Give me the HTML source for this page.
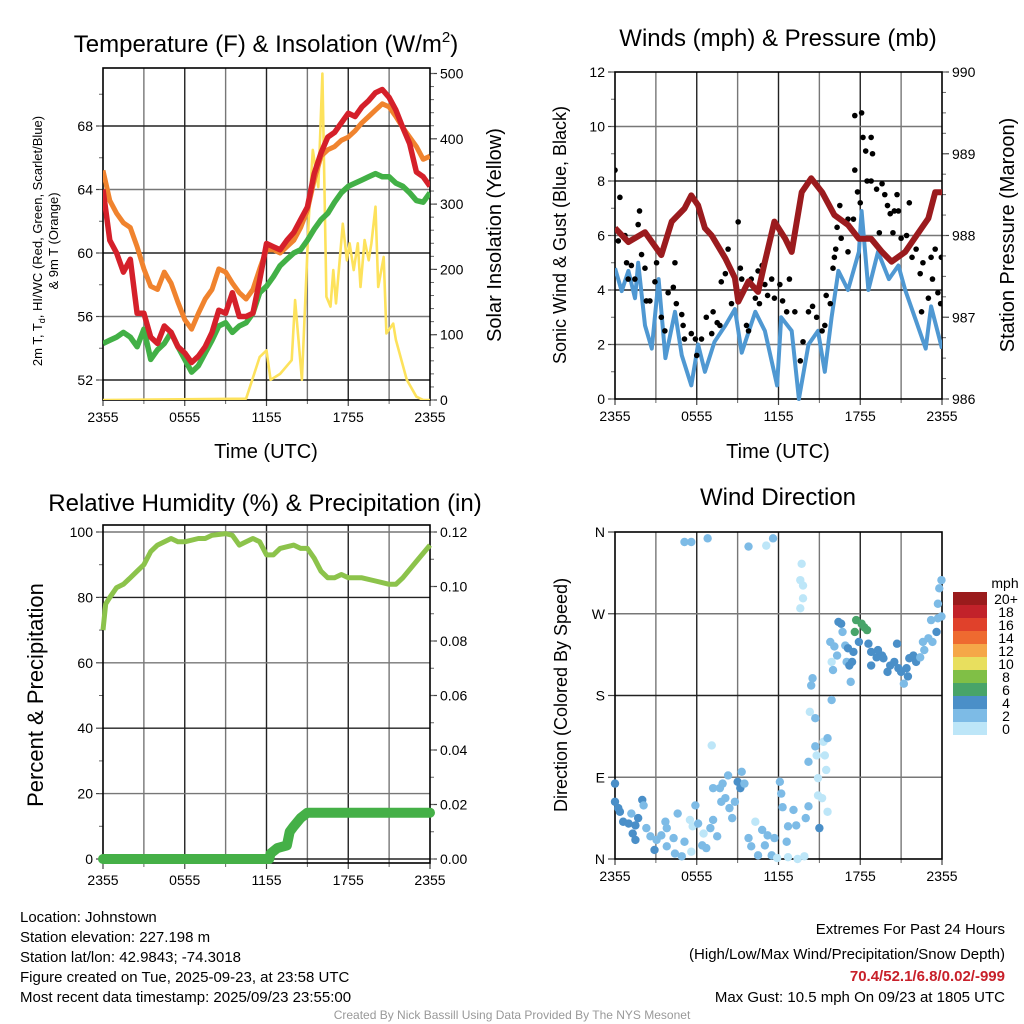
<!DOCTYPE html>
<html><head><meta charset="utf-8"><style>
html,body{margin:0;padding:0;background:#fff;}
svg{display:block;font-family:"Liberation Sans",sans-serif;}
</style></head><body>
<svg id="chart" width="1024" height="1024" viewBox="0 0 1024 1024" xmlns="http://www.w3.org/2000/svg">
<rect width="1024" height="1024" fill="#fff"/>
<g id="layer"></g>
<g font-size="24" fill="#000" text-anchor="middle">
<text x="266" y="52">Temperature (F) &amp; Insolation (W/m<tspan font-size="15" dy="-10">2</tspan><tspan dy="10">)</tspan></text>
<text x="778" y="46">Winds (mph) &amp; Pressure (mb)</text>
<text x="265" y="511">Relative Humidity (%) &amp; Precipitation (in)</text>
<text x="778" y="505">Wind Direction</text>
</g>
<g font-size="20" text-anchor="middle">
<text x="266" y="458">Time (UTC)</text>
<text x="778" y="458">Time (UTC)</text>
<text transform="translate(501,235) rotate(-90)">Solar Insolation (Yellow)</text>
<text font-size="18" transform="translate(566,235) rotate(-90)">Sonic Wind &amp; Gust (Blue, Black)</text>
<text transform="translate(1014,235) rotate(-90)">Station Pressure (Maroon)</text>
<text font-size="22" transform="translate(43,695) rotate(-90)">Percent &amp; Precipitation</text>
<text font-size="18" transform="translate(567,695) rotate(-90)">Direction (Colored By Speed)</text>
</g>
<g font-size="13" text-anchor="middle">
<text transform="translate(42,241) rotate(-90)">2m T, T<tspan font-size="9" dy="3">d</tspan><tspan dy="-3">, HI/WC (Red, Green, Scarlet/Blue)</tspan></text>
<text transform="translate(58,241) rotate(-90)">&amp; 9m T (Orange)</text>
</g>
<g font-size="15">
<text x="20" y="922">Location: Johnstown</text>
<text x="20" y="942">Station elevation: 227.198 m</text>
<text x="20" y="962">Station lat/lon: 42.9843; -74.3018</text>
<text x="20" y="982">Figure created on Tue, 2025-09-23, at 23:58 UTC</text>
<text x="20" y="1002">Most recent data timestamp: 2025/09/23 23:55:00</text>
<g text-anchor="end">
<text x="1005" y="934">Extremes For Past 24 Hours</text>
<text x="1005" y="959">(High/Low/Max Wind/Precipitation/Snow Depth)</text>
<text x="1005" y="981" fill="#c8202a" font-weight="bold">70.4/52.1/6.8/0.02/-999</text>
<text x="1005" y="1002">Max Gust: 10.5 mph On 09/23 at 1805 UTC</text>
</g>
<text x="512" y="1019" font-size="12" fill="#999" text-anchor="middle">Created By Nick Bassill Using Data Provided By The NYS Mesonet</text>
</g>
</svg>
<script>
// ---- data ----
const hrs = [0,0.5,1,1.5,2,2.5,3,3.5,4,4.5,5,5.5,6,6.5,7,7.5,8,8.5,9,9.5,10,10.5,11,11.5,12,12.5,13,13.5,14,14.5,15,15.5,16,16.5,17,17.5,18,18.5,19,19.5,20,20.5,21,21.5,22,22.5,23,23.5,24];
const tempRed = [64,60.8,60,58.8,59.6,56.2,56.2,54.7,54.3,55.4,55,54.1,53.7,53.1,53.5,54.1,55,56.4,56.2,57.5,56,56,56.2,58.3,60.6,60.4,60.2,60.8,61.3,62.1,62.9,65,66.3,67.3,67.6,68.2,68.8,68.6,69.2,69.6,70.1,70.3,69.8,69,67.9,66.9,65.1,64.8,64.2];
const tempOrange = [65.2,63.3,62.5,61.9,61.6,60.4,59,57.9,57.7,58.8,58.1,56.9,55.8,55.2,56.2,57.1,57.7,59,58.8,58.1,57.5,57.1,57.7,59,60.2,60.2,60,60.4,60.8,61.6,62.7,64.6,66.1,66.5,66.7,67.1,67.3,67.7,68.2,68.6,69,69.4,69.2,68.6,67.9,67.3,66.7,65.9,66.1];
const tempGreen = [54.3,54.5,54.7,55,54.7,54.1,55.2,53.3,53.9,54.3,55,54.1,53.3,52.5,52.9,53.7,54.5,55.4,55.6,55,55.4,55.6,56.2,57.5,57.9,58.5,59.2,59.6,60,60.2,60.8,61.5,62.1,62.5,63.2,63.8,64.2,64.4,64.6,64.8,65,64.8,64.8,64.4,64.2,63.8,63.3,63.2,63.8];
const solarHrs = [0,10.5,11.5,12,12.3,13,13.85,14.1,14.6,15.1,15.4,15.8,16.1,16.4,16.7,16.9,17.1,17.6,17.9,18.1,18.4,18.7,18.9,19.2,19.5,19.7,20,20.2,20.6,20.8,21.3,21.5,22.3,23,23.5,24];
const solar = [0,2,66,76,31,40,61,153,31,275,383,326,500,158,143,199,148,270,214,240,199,240,173,245,214,240,296,173,219,102,117,92,31,5,0,0];
const windHrs = [0,0.49,0.98,1.47,1.7,2.2,2.7,3.2,3.7,4.4,4.9,5.6,6.1,6.6,7.3,8.1,8.8,9.3,10.3,11,11.9,12.2,12.97,13.5,14.2,14.9,15.4,15.9,16.4,17.1,17.9,18.1,18.6,19.3,20.1,20.8,21.3,22,22.8,23.2,24];
const wind = [4.8,3.96,4.7,3.7,5.0,2.7,1.85,4.4,1.5,3.2,1.6,0.5,2.0,1.0,2.1,2.7,3.3,1.7,3.2,2.5,0.5,3.0,2.5,0.0,2.0,2.5,1.0,3.0,4.7,4.0,5.4,6.9,4.0,5.4,4.4,4.9,4.0,3.0,1.85,3.4,1.85];
const presHrs = [0,0.98,2.2,3.4,4.16,5.1,5.6,6.1,6.6,7.1,8.1,8.8,9.05,9.8,10.5,11,11.7,12.5,12.97,13.7,14.4,15.2,16.1,17.1,17.9,18.8,19.6,20.3,21.3,22.3,23,23.5,24];
const pressure = [988.09,987.92,988.04,987.76,988.17,988.33,988.49,988.37,988.09,988.0,987.72,987.48,987.19,987.44,987.31,987.68,988.17,987.96,987.8,988.53,988.70,988.53,988.25,988.13,987.96,987.96,987.80,987.68,987.80,988.04,988.21,988.53,988.53];
const gustHrs = [0,0.36,0.24,0.73,0.85,0.97,1.2,1.46,1.7,1.8,1.95,2.2,2.3,2.56,2.93,3.05,3.4,3.66,3.9,4.28,4.4,4.5,4.9,5.0,5.1,5.6,5.9,6.0,6.35,6.7,7.1,7.2,7.5,7.7,7.8,8.1,8.3,8.55,9.04,9.2,9.3,9.65,9.8,10,10.3,10.5,10.6,10.8,11,11.2,11.5,11.7,12.1,12.3,12.6,12.8,13.2,13.6,13.8,14.2,14.5,14.8,15.2,15.4,15.5,15.8,16,16.1,16.2,16.3,16.5,16.6,16.9,17.1,17.5,17.6,17.8,18,17.6,18.1,18.2,18.4,18.8,18.9,18.5,18.8,19.2,19.6,19.8,20,20.2,20.5,20.7,20.8,21,21.4,21.6,21.8,22.1,22.4,22.6,23.2,23.5,23.3,23.7,23.9,23,22.5,23.95,19.4,20.4,17.1];
const gust = [8.4,7.4,5.8,6.0,5.0,4.4,4.9,4.4,6.4,6.9,5.3,4.8,3.6,3.6,4.3,5.0,3.0,2.5,3.9,4.1,5.0,3.5,3.1,2.7,2.2,2.4,2.2,1.6,2.2,3.0,2.4,3.2,2.8,2.7,4.3,4.6,5.5,3.5,6.5,4.8,4.4,2.7,2.5,4.4,3.7,4.7,3.5,4.9,4.2,3.8,4.4,3.7,4.2,3.6,3.2,4.4,3.2,1.4,2.1,3.2,3.4,3.0,2.5,2.7,3.8,3.5,4.8,5.2,5.5,6.3,7.1,5.9,6.5,5.4,6.6,8.4,7.6,7.2,10.4,10.5,9.6,9.1,9.6,9.0,8.0,8.0,7.7,7.9,7.5,7.1,6.8,6.9,7.5,6.9,5.9,6.0,7.2,5.2,5.5,4.6,5.0,5.2,5.5,4.4,3.9,3.5,3.7,3.2,5.2,6.1,6.1,6.6];
const rhHrs = [0,0.2,0.5,1,1.5,2,2.5,3,3.5,4,5,5.5,6,7,7.5,8,9,9.5,10,10.5,11,11.5,12,12.5,13,14,14.5,15,15.5,16,16.5,17,17.5,18,19,20,21,21.5,22,23,24];
const rh = [70,78,80,83,84,86,88,90,94,96,98,97,97,98,98,99,99.5,99,96,97,98,97,93,93,95,96,95,95,92,88,86,86,87,86,86,85,84,84,86,91,96];
const precipHrs = [0,12.2,12.3,12.8,13.5,13.7,14,14.5,15,24];
const precip = [0,0,0.002,0.004,0.005,0.01,0.012,0.015,0.017,0.017];
const dirHrs = [0,0,0.24,0.36,0.6,1.0,1.2,1.5,1.7,2.0,2.1,1.3,1.5,2.3,2.6,2.9,3.05,3.4,3.7,3.8,3.8,4.4,4.3,4.6,4.9,5.1,5.5,5.6,5.7,5.9,6.1,6.4,6.5,6.7,7.0,7.2,7.2,7.5,7.7,7.8,7.9,8.1,8.3,8.4,8.6,8.8,9.0,9.2,9.3,9.5,7.1,5.1,5.6,6.8,9.8,11.1,11.6,9.8,10.0,10.3,10.5,10.8,11.0,11.2,11.5,11.7,11.9,12.1,12.2,12.3,12.6,12.7,12.7,13.1,13.3,13.4,13.9,14.0,14.2,13.7,13.6,13.8,13.8,13.6,14.2,14.4,14.5,14.3,14.7,14.7,14.8,14.9,14.9,15.0,15.2,15.3,15.4,15.5,15.6,15.6,15.9,15.8,15.9,16.0,16.1,16.3,16.4,16.6,16.7,16.9,17.0,17.1,17.2,17.4,17.5,17.3,17.7,17.6,18.1,18.3,18.5,17.9,18.6,18.8,18.8,19.2,19.3,19.6,19.7,20.0,20.2,20.5,20.7,20.8,21.0,21.2,21.4,21.5,21.6,21.9,22.1,22.4,22.6,22.7,23.0,23.2,23.3,23.6,23.7,23.7,23.8,23.96,23.96];
const dirDeg = [83,63,56,52,41,39,50,37,45,65,59,28,21,34,25,10,21,26,41,14,34,6,23,50,3,19,43,8,36,59,39,15,28,12,34,78,43,25,78,63,83,67,92,56,45,63,85,78,96,83,125,349,349,353,344,345,353,23,14,41,4,32,15,26,4,23,1,85,72,57,19,36,2,54,37,0,3,45,58,325,307,301,287,276,107,191,199,162,155,124,114,89,70,34,67,129,114,98,52,133,175,239,217,208,234,224,261,259,250,235,217,232,213,217,228,195,263,250,259,255,252,239,237,228,213,222,230,224,221,206,213,217,237,210,206,193,210,201,221,224,217,222,239,230,243,263,239,250,265,281,298,307,267];
const dirSpd = [4,4,4,4,4,4,2,4,4,4,2,4,4,2,2,4,2,2,2,2,2,2,2,2,2,2,0,0,0,2,2,2,0,2,2,2,2,2,2,2,2,2,2,2,2,2,4,4,2,2,0,2,2,2,2,0,2,2,2,0,2,2,2,2,2,2,0,2,2,2,2,2,0,2,2,0,0,2,2,0,0,0,0,0,2,2,2,0,2,2,0,0,0,4,0,0,0,0,0,2,2,2,0,2,2,2,4,4,2,2,2,4,4,4,4,2,6,6,6,6,6,4,4,4,4,4,4,4,4,4,4,4,4,4,4,2,4,4,4,4,4,2,2,2,2,2,2,4,2,2,2,2,2];
const speedBins = ["0","2","4","6","8","10","12","14","16","18","20+"];
const speedColors = ["#bde6f8","#7dbbe6","#4a8fc8","#48a469","#80bf46","#e8df5e","#f5a748","#ee6a30","#e0412b","#c2222a","#9a1b1c"];
const tempTicks = [52,56,60,64,68];
const solarTicks = [0,100,200,300,400,500];
const windTicks = [0,2,4,6,8,10,12];
const presTicks = [986,987,988,989,990];
const rhTicks = [0,20,40,60,80,100];
const prTicks = [0,0.02,0.04,0.06,0.08,0.10,0.12];
const dirTicks = [0,90,180,270,360];
const dirLabels = ["N","E","S","W","N"];
const timeLabels = ["2355","0555","1155","1755","2355"];

// ---- helpers ----
const NS="http://www.w3.org/2000/svg";
const layer=document.getElementById('layer');
function mk(tag,attrs,parent){const e=document.createElementNS(NS,tag);for(const k in attrs)e.setAttribute(k,attrs[k]);(parent||layer).appendChild(e);return e;}
function lin(d0,d1,r0,r1){return v=>r0+(v-d0)*(r1-r0)/(d1-d0);}
function pathD(xs,ys,fx,fy){return xs.map((h,i)=>(i?'L':'M')+fx(h).toFixed(1)+' '+fy(ys[i]).toFixed(1)).join('');}

function frame(name,x0,x1,y0,y1,fy,leftTicks,leftFmt,minorL,rightScale,rightTicks,rightFmt,minorR){
  const g=mk('g',{});
  
  
  const fx=lin(0,24,x0,x1);
  for(let h=3;h<24;h+=3){const l=mk('line',{x1:fx(h),x2:fx(h),y1:y0,y2:y1,stroke:(h%6?'#777':'#222'),'stroke-width':1.4},g);}
  leftTicks.forEach((t,i)=>{const y=fy(t);
    if(y>y0+1&&y<y1-1){const l=mk('line',{x1:x0,x2:x1,y1:y,y2:y,stroke:(i%2?'#777':'#222'),'stroke-width':1.4},g);}
    mk('line',{x1:x0-7,x2:x0,y1:y,y2:y,stroke:'#444','stroke-width':1.2},g);
    const tx=mk('text',{x:x0-10,y:y+5,'font-size':14,'text-anchor':'end'},g);tx.textContent=leftFmt(t);
    
  });
  minorL.forEach(t=>{const y=fy(t);if(y>=y0&&y<=y1)mk('line',{x1:x0-4,x2:x0,y1:y,y2:y,stroke:'#666','stroke-width':1},g);});
  if(rightScale){
    rightTicks.forEach(t=>{const y=rightScale(t);mk('line',{x1:x1,x2:x1+7,y1:y,y2:y,stroke:'#444','stroke-width':1.2},g);
      const tx=mk('text',{x:x1+10,y:y+5,'font-size':14},g);tx.textContent=rightFmt(t);
      });
    minorR.forEach(t=>{const y=rightScale(t);if(y>=y0&&y<=y1)mk('line',{x1:x1,x2:x1+4,y1:y,y2:y,stroke:'#666','stroke-width':1},g);});
  }
  timeLabels.forEach((s,i)=>{const x=fx(i*6);mk('line',{x1:x,x2:x,y1:y1,y2:y1+6,stroke:'#444','stroke-width':1.2},g);
    const tx=mk('text',{x:x,y:y1+22,'font-size':14,'text-anchor':'middle'},g);tx.textContent=s;
    });
  for(let h=3;h<24;h+=6)mk('line',{x1:fx(h),x2:fx(h),y1:y1,y2:y1+4,stroke:'#666'},g);
  const b=mk('rect',{x:x0,y:y0,width:x1-x0,height:y1-y0,fill:'none',stroke:'#000','stroke-width':1.6},g);
  
  return fx;
}
function range(a,b,s){const r=[];for(let v=a;v<=b+1e-9;v+=s)r.push(+v.toFixed(4));return r;}

// ---- Panel 1 ----
{
 const x0=103,x1=430,y0=68,y1=400;
 const fy=lin(52,68,380,126);
 const fs=lin(0,500,400,73.5);
 const fx=frame('temperature',x0,x1,y0,y1,fy,tempTicks,t=>t,range(50,72,2),fs,solarTicks,t=>t,range(0,500,20));
 const cl=mk('clipPath',{id:'c1'});mk('rect',{x:x0,y:y0,width:x1-x0,height:y1-y0},cl);
 const g=mk('g',{'clip-path':'url(#c1)'});
 const s=mk('path',{d:pathD(solarHrs,solar,fx,fs),fill:'none',stroke:'#fde25c','stroke-width':2.6,'stroke-linejoin':'round'},g);
 
 const o=mk('path',{d:pathD(hrs,tempOrange,fx,fy),fill:'none',stroke:'#f0832e','stroke-width':5,'stroke-linejoin':'round'},g);
 
 const gr=mk('path',{d:pathD(hrs,tempGreen,fx,fy),fill:'none',stroke:'#42b046','stroke-width':5.5,'stroke-linejoin':'round'},g);
 
 const r=mk('path',{d:pathD(hrs,tempRed,fx,fy),fill:'none',stroke:'#d5202a','stroke-width':5.5,'stroke-linejoin':'round'},g);
 
}
// ---- Panel 2 ----
{
 const x0=615,x1=942,y0=72,y1=399;
 const fy=lin(0,12,399,72);
 const fp=lin(986,990,399,72);
 const fx=frame('winds',x0,x1,y0,y1,fy,windTicks,t=>t,range(0,12,1),fp,presTicks,t=>t,range(986,990,0.25));
 const cl=mk('clipPath',{id:'c2'});mk('rect',{x:x0,y:y0-3,width:x1-x0,height:y1-y0+6},cl);
 const g=mk('g',{'clip-path':'url(#c2)'});
 const w=mk('path',{d:pathD(windHrs,wind,fx,fy),fill:'none',stroke:'#4f98d2','stroke-width':4,'stroke-linejoin':'round'},g);
 
 gustHrs.forEach((h,i)=>{const c=mk('circle',{cx:fx(h),cy:fy(gust[i]),r:2.8,fill:'#000'},g);
   
   });
 const p=mk('path',{d:pathD(presHrs,pressure,fx,fp),fill:'none',stroke:'#9b1b1e','stroke-width':6,'stroke-linejoin':'round'},g);
 
}
// ---- Panel 3 ----
{
 const x0=103,x1=430,y0=525,y1=863;
 const fy=lin(0,100,859,532);
 const fp=lin(0,0.12,859,532);
 const fx=frame('humidity',x0,x1,y0,y1,fy,rhTicks,t=>t,range(0,100,10),fp,prTicks,t=>t.toFixed(2),range(0,0.12,0.01));
 const g=mk('g',{});
 const r=mk('path',{d:pathD(rhHrs,rh,fx,fy),fill:'none',stroke:'#8cc34b','stroke-width':5,'stroke-linejoin':'round'},g);
 
 const p=mk('path',{d:pathD(precipHrs,precip,fx,fp),fill:'none',stroke:'#45b047','stroke-width':10,'stroke-linejoin':'round','stroke-linecap':'round'},g);
 
}
// ---- Panel 4 ----
{
 const x0=615,x1=942,y0=532,y1=859;
 const fy=lin(0,360,859,532);
 const fx=frame('direction',x0,x1,y0,y1,fy,dirTicks,t=>dirLabels[dirTicks.indexOf(t)],[],null);
 const g=mk('g',{});
 dirHrs.forEach((h,i)=>{const c=mk('circle',{cx:fx(h),cy:fy(dirDeg[i]),r:4.2,fill:speedColors[dirSpd[i]/2]},g);
   
   });
 // colorbar
 const cb=mk('g',{});
 
 
 const t=mk('text',{x:1005,y:588,'font-size':14,'text-anchor':'middle'},cb);t.textContent='mph';
 speedBins.forEach((s,i)=>{const y=722-i*13;
   mk('rect',{x:953,y:y,width:34,height:13,fill:speedColors[i]},cb);
   const tx=mk('text',{x:1006,y:y+12,'font-size':14,'text-anchor':'middle'},cb);tx.textContent=s;
   });
}
</script>
</body></html>
